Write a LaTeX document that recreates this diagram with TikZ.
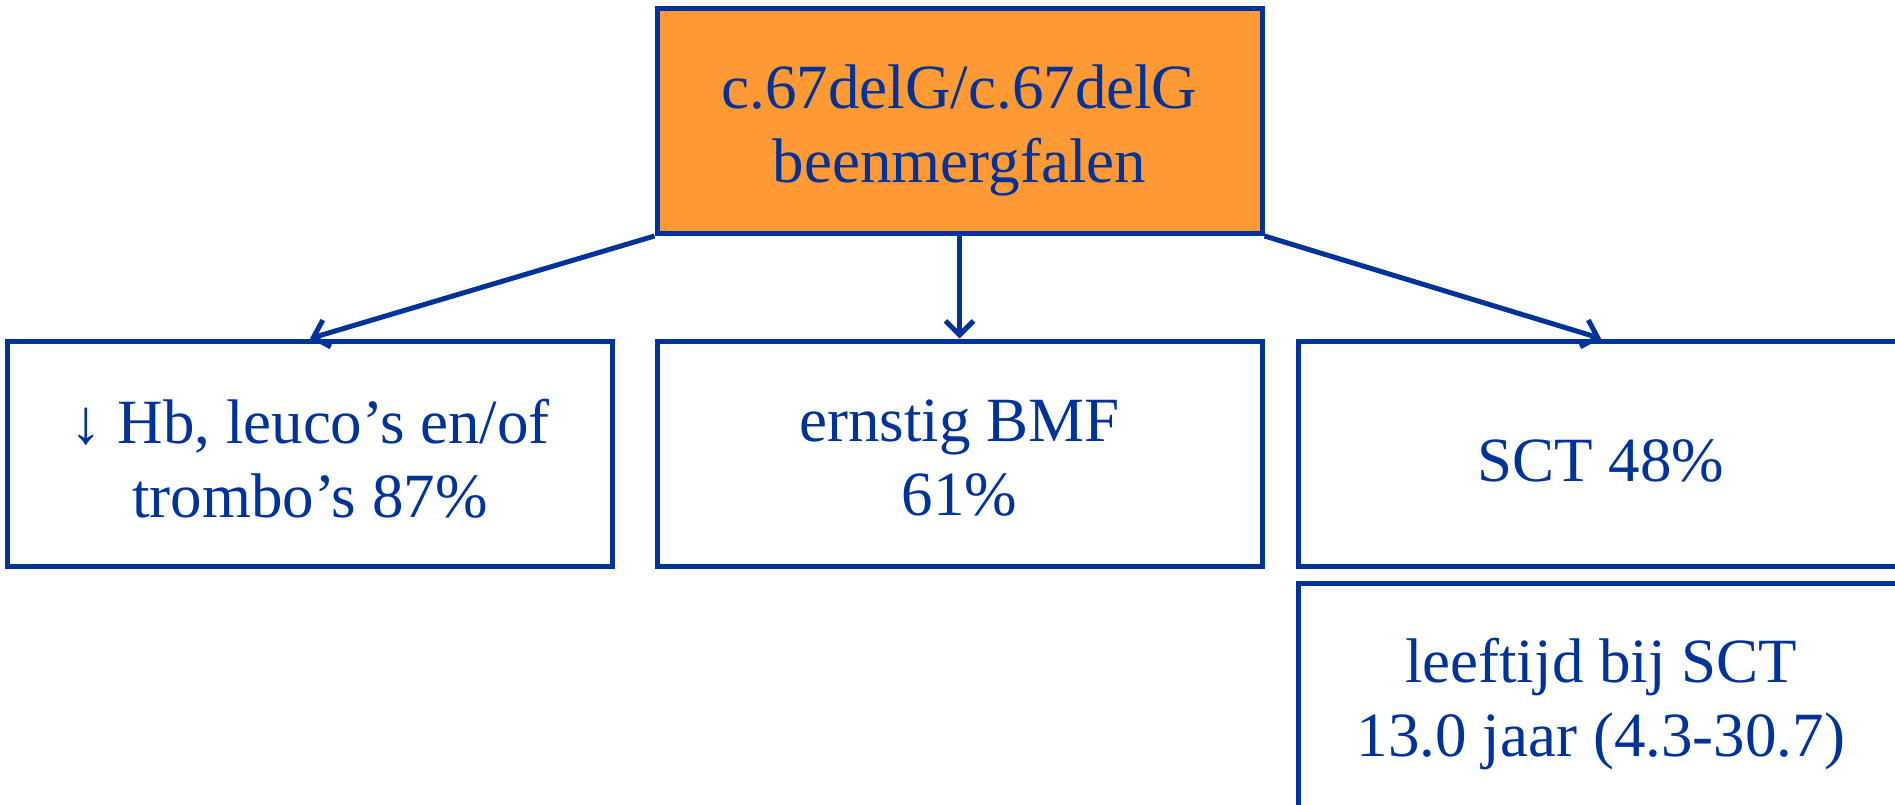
\documentclass[tikz,border=0pt]{standalone}
\usepackage{fontspec}
\setmainfont{Liberation Serif}
\usetikzlibrary{arrows.meta}
\definecolor{dblue}{RGB}{0,51,153}
\definecolor{orng}{RGB}{255,153,51}
\begin{document}
\begin{tikzpicture}[x=1pt,y=-1pt,
  box/.style={draw=dblue,line width=5pt,rectangle,minimum width=605pt,minimum height=225pt,inner sep=0pt},
  txt/.style={align=center,text=dblue,font=\fontsize{63pt}{74pt}\selectfont,inner sep=0pt},
  conn/.style={draw=dblue,line width=5pt,-{Straight Barb[length=14pt,width=28pt,line width=5pt]}}]
\useasboundingbox (0,0) rectangle (1895,805);
\node[box,fill=orng] (top) at (959.5,121) {};
\node[box] (left) at (310,453.5) {};
\node[box] (mid) at (959.5,453.5) {};
\node[box] (right) at (1601,453.5) {};
\node[box] (bot) at (1601,695.5) {};
\node[txt] (topt) at ([yshift=-9pt]top.center) {c.67delG/c.67delG\\beenmergfalen};
\node[txt] (leftt) at ([yshift=-5pt]left.center) {↓ Hb, leuco’s en/of\\trombo’s 87\%};
\node[txt] (midt) at ([yshift=-5pt]mid.center) {ernstig BMF\\61\%};
\node[txt] (rightt) at ([yshift=-7pt]right.center) {SCT 48\%};
\node[txt] (bott) at ([yshift=-9pt]bot.center) {leeftijd bij SCT\\13.0 jaar (4.3-30.7)};
\draw[conn] (top.south west) -- (left.north);
\draw[conn] (top.south) -- (mid.north);
\draw[conn] (top.south east) -- (right.north);
\end{tikzpicture}
\end{document}
